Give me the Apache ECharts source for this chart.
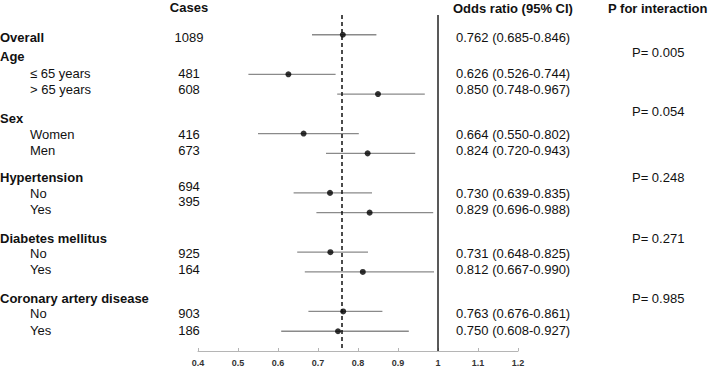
<!DOCTYPE html>
<html>
<head>
<meta charset="utf-8">
<script src="https://cdn.jsdelivr.net/npm/echarts@6/dist/echarts.min.js"></script>
<style>
  html, body { margin: 0; padding: 0; background: #fff; }
  #chart { width: 709px; height: 367px; }
</style>
</head>
<body>
<div id="chart"></div>
<script>
// rows of the table, top to bottom
const rowLabels = ['Overall', 'Age', '≤ 65 years', '> 65 years', 'Sex', 'Women', 'Men',
  'Hypertension', 'No', 'Yes', 'Diabetes mellitus', 'No', 'Yes',
  'Coronary artery disease', 'No', 'Yes'];
const rowKind = ['overall', 'group', 'sub', 'sub', 'group', 'sub', 'sub',
  'group', 'sub', 'sub', 'group', 'sub', 'sub', 'group', 'sub', 'sub'];
const cases = [1089, null, 481, 608, null, 416, 673, null, 694, 395, null, 925, 164, null, 903, 186];
const oddsRatio = [0.762, null, 0.626, 0.850, null, 0.664, 0.824, null, 0.730, 0.829, null, 0.731, 0.812, null, 0.763, 0.750];
const ciLow = [0.685, null, 0.526, 0.748, null, 0.550, 0.720, null, 0.639, 0.696, null, 0.648, 0.667, null, 0.676, 0.608];
const ciHigh = [0.846, null, 0.744, 0.967, null, 0.802, 0.943, null, 0.835, 0.988, null, 0.825, 0.990, null, 0.861, 0.927];
const pInteraction = [null, '0.005', null, null, '0.054', null, null, '0.248', null, null, '0.271', null, null, '0.985', null, null];
const xTicks = [0.4, 0.5, 0.6, 0.7, 0.8, 0.9, 1, 1.1, 1.2];

// text layout (pixel rows of the table columns)
const textY = [37, 56, 73, 89, 118, 134, 150, 177, 193, 209, 238, 253, 269, 298, 313, 330];
const casesY = [37, null, 73, 89, null, 134, 150, null, 186, 201, null, 253, 269, null, 313, 330];
const pY = [null, 52, null, null, 111, null, null, 177, null, null, 238, null, null, 298, null, null];

const FONT = '"Liberation Sans", Arial, Helvetica, sans-serif';
const chart = echarts.init(document.getElementById('chart'), null, { renderer: 'svg' });

// y category slots: a blank one above and below the rows
const ySlots = [''].concat(rowLabels.map((l, i) => i + ':' + l)).concat(['']);

const pointData = [];
const ciData = [];
oddsRatio.forEach((v, i) => {
  if (v == null) return;
  pointData.push([v, i + 1]);
  ciData.push([ciLow[i], ciHigh[i], i + 1]);
});

function txt(x, y, text, bold, align) {
  return {
    type: 'text', x: x, y: y, silent: true,
    style: {
      text: text, fill: '#111', textAlign: align || 'left', textVerticalAlign: 'middle',
      font: (bold ? 'bold ' : '') + '13px ' + FONT
    }
  };
}

const graphics = [
  txt(189, 7, 'Cases', true, 'center'),
  txt(453, 8, 'Odds ratio (95% CI)', true),
  txt(608, 8, 'P for interaction', true)
];
rowLabels.forEach((label, i) => {
  const kind = rowKind[i];
  graphics.push(txt(kind === 'sub' ? 30 : 0, textY[i], label, kind !== 'sub'));
  if (cases[i] != null) graphics.push(txt(189, casesY[i], String(cases[i]), false, 'center'));
  if (oddsRatio[i] != null) {
    graphics.push(txt(456, textY[i],
      oddsRatio[i].toFixed(3) + ' (' + ciLow[i].toFixed(3) + '-' + ciHigh[i].toFixed(3) + ')'));
  }
  if (pInteraction[i] != null) graphics.push(txt(632, pY[i], 'P= ' + pInteraction[i]));
});

chart.setOption({
  animation: false,
  grid: { left: 198, right: 191, top: 15, bottom: 16 },
  xAxis: {
    type: 'value', min: 0.4, max: 1.2, interval: 0.1,
    splitLine: { show: false },
    axisLine: { show: true, lineStyle: { color: '#b5b5b5', width: 1 } },
    axisTick: { show: true, inside: true, length: 3, lineStyle: { color: '#b5b5b5' } },
    axisLabel: {
      color: '#333', fontFamily: FONT, fontWeight: 'bold', fontSize: 9, margin: 7,
      formatter: v => {
        const t = xTicks.find(k => Math.abs(k - v) < 1e-6);
        return t != null ? String(t) : '';
      }
    }
  },
  yAxis: {
    type: 'category', data: ySlots, inverse: true, boundaryGap: false,
    show: false
  },
  series: [
    {
      type: 'custom',
      data: ciData,
      renderItem: (params, api) => {
        const a = api.coord([api.value(0), api.value(2)]);
        const b = api.coord([api.value(1), api.value(2)]);
        return {
          type: 'line',
          shape: { x1: a[0], y1: a[1], x2: b[0], y2: b[1] },
          style: { stroke: '#8a8a8a', lineWidth: 1.3 }
        };
      },
      z: 2
    },
    {
      type: 'scatter',
      data: pointData,
      symbol: 'circle',
      symbolSize: 6,
      itemStyle: { color: '#000' },
      z: 4,
      markLine: {
        silent: true,
        symbol: 'none',
        label: { show: false },
        data: [
          { xAxis: 1, lineStyle: { color: '#222', width: 1.5, type: 'solid' } },
          { xAxis: oddsRatio[0], lineStyle: { color: '#111', width: 1.5, type: [4, 3] } }
        ]
      }
    }
  ],
  graphic: graphics
});
</script>
</body>
</html>
